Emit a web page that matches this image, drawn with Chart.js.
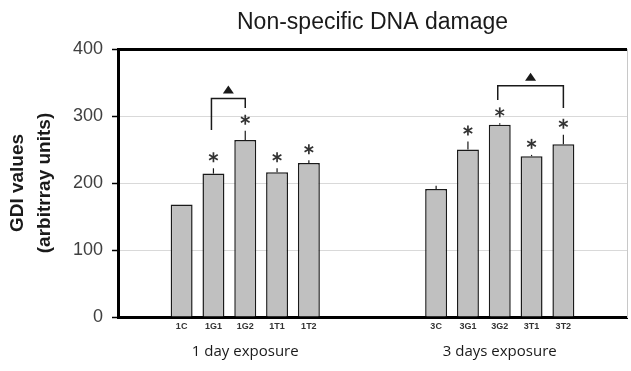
<!DOCTYPE html>
<html lang="en">
<head>
  <meta charset="UTF-8">
  <title>Non-specific DNA damage</title>
  <script src="https://cdn.jsdelivr.net/npm/chart.js@4.4.0/dist/chart.umd.min.js"></script>
  <style>
    html, body { margin: 0; padding: 0; background: #fff; }
    .chart-box { width: 631px; height: 371px; }
  </style>
</head>
<body>
  <div class="chart-box">
    <canvas id="gdiChart"></canvas>
  </div>
  <script>
    // tick labels (blank slots keep the two exposure groups apart)
    const categories = ['', '', '1C', '1G1', '1G2', '1T1', '1T2', '', '', '', '3C', '3G1', '3G2', '3T1', '3T2', '', ''];
    const groupLabels = ['', '', '', '', '1 day exposure', '', '', '', '', '', '', '', '3 days exposure', '', '', '', ''];
    const gdiValues = [null, null, 168, 214, 264, 216, 230, null, null, null, 191, 250, 287, 240, 258, null, null];
    const gdiErrors = [null, null, 0, 8, 14, 6, 4, null, null, null, 5, 12, 2, 2, 14, null, null];
    const significant = [false, false, false, true, true, true, true, false, false, false, false, true, true, true, true, false, false];

    // brackets marked with a triangle: from / to category, top level, leg ends
    const bracketFrom = ['1G1', '3G2'];
    const bracketTo = ['1G2', '3T2'];
    const bracketTop = [326, 345];
    const bracketFromEnd = [279, 324];
    const bracketToEnd = [312, 312];

    const annotations = {
      id: 'annotations',
      afterDatasetsDraw(chart) {
        const ctx = chart.ctx;
        const x = chart.scales.x;
        const y = chart.scales.y;
        ctx.save();
        ctx.strokeStyle = '#1a1a1a';
        ctx.fillStyle = '#1a1a1a';

        // error bars and stars
        gdiValues.forEach((v, i) => {
          if (v === null) return;
          const px = x.getPixelForValue(i);
          const top = y.getPixelForValue(v + gdiErrors[i]);
          if (gdiErrors[i] > 0) {
            ctx.lineWidth = 1.2;
            ctx.beginPath();
            ctx.moveTo(px, y.getPixelForValue(v));
            ctx.lineTo(px, top);
            ctx.stroke();
          }
          if (significant[i]) {
            const cy = top - 11;
            ctx.lineWidth = 1.7;
            ctx.strokeStyle = '#333';
            for (let k = 0; k < 3; k++) {
              const a = Math.PI / 2 + k * Math.PI / 3;
              ctx.beginPath();
              ctx.moveTo(px - 5 * Math.cos(a), cy - 5 * Math.sin(a));
              ctx.lineTo(px + 5 * Math.cos(a), cy + 5 * Math.sin(a));
              ctx.stroke();
            }
            ctx.strokeStyle = '#1a1a1a';
          }
        });

        // brackets
        bracketFrom.forEach((name, b) => {
          const x1 = x.getPixelForValue(categories.indexOf(name)) - 2;
          const x2 = x.getPixelForValue(categories.indexOf(bracketTo[b]));
          const yt = y.getPixelForValue(bracketTop[b]);
          ctx.lineWidth = 1.5;
          ctx.beginPath();
          ctx.moveTo(x1, y.getPixelForValue(bracketFromEnd[b]));
          ctx.lineTo(x1, yt);
          ctx.lineTo(x2, yt);
          ctx.lineTo(x2, y.getPixelForValue(bracketToEnd[b]));
          ctx.stroke();
          const mx = (x1 + x2) / 2;
          ctx.beginPath();
          ctx.moveTo(mx - 5.5, yt - 5);
          ctx.lineTo(mx + 5.5, yt - 5);
          ctx.lineTo(mx, yt - 13);
          ctx.closePath();
          ctx.fill();
        });
        ctx.restore();
      }
    };

    const ctx = document.getElementById('gdiChart').getContext('2d');
    new Chart(ctx, {
      type: 'bar',
      data: {
        labels: categories,
        datasets: [{
          data: gdiValues,
          backgroundColor: '#c0c0c0',
          borderColor: '#1a1a1a',
          borderWidth: 1.5,
          barPercentage: 0.69,
          categoryPercentage: 1
        }]
      },
      options: {
        responsive: true,
        maintainAspectRatio: false,
        animation: false,
        layout: { padding: { left: 0, right: 0, top: 0, bottom: 0 } },
        plugins: {
          legend: { display: false },
          tooltip: { enabled: false },
          title: {
            display: true,
            text: 'Non-specific DNA damage',
            fullSize: false,
            color: '#1a1a1a',
            font: { family: '"Liberation Sans", Arial, sans-serif', size: 23, weight: 'normal', lineHeight: 1.2 },
            padding: { top: 9, bottom: 12.4 }
          }
        },
        scales: {
          x: {
            offset: false,
            grid: { display: false, drawTicks: false },
            border: { display: true, color: '#000', width: 3 },
            ticks: {
              autoSkip: false,
              maxRotation: 0,
              padding: 4,
              color: '#333',
              font: { family: '"Liberation Sans", Arial, sans-serif', size: 9, weight: 'bold' }
            },
            afterFit(scale) { scale.height = 22; }
          },
          xGroup: {
            type: 'category',
            position: 'bottom',
            labels: groupLabels,
            offset: false,
            grid: { display: false, drawTicks: false },
            border: { display: false },
            ticks: {
              autoSkip: false,
              maxRotation: 0,
              padding: 4,
              color: '#1a1a1a',
              font: { family: '"Open Sans", sans-serif', size: 15 }
            },
            afterFit(scale) { scale.height = 32; }
          },
          y: {
            min: 0,
            max: 400,
            ticks: {
              stepSize: 100,
              padding: 9,
              color: '#404040',
              font: { family: '"Liberation Sans", Arial, sans-serif', size: 18 }
            },
            grid: {
              color: (c) => c.tick && c.tick.value === 400 ? '#000' : '#d9d9d9',
              lineWidth: (c) => c.tick && c.tick.value === 400 ? 3 : 1,
              tickColor: '#000',
              tickWidth: 1.5,
              tickLength: 6
            },
            border: { display: true, color: '#000', width: 3 },
            title: {
              display: true,
              text: ['GDI values', '(arbitrray units)'],
              color: '#1a1a1a',
              font: { family: '"Liberation Sans", Arial, sans-serif', size: 19, weight: 'bold', lineHeight: 1.42 },
              padding: { top: 4.5, bottom: 0 }
            },
            afterFit(scale) { scale.width = 118; }
          },
          yRight: {
            position: 'right',
            min: 0,
            max: 400,
            ticks: { display: false },
            grid: { display: false },
            border: { display: true, color: '#c8c8c8', width: 1 },
            afterFit(scale) { scale.width = 3; }
          }
        }
      },
      plugins: [annotations]
    });
  </script>
</body>
</html>
